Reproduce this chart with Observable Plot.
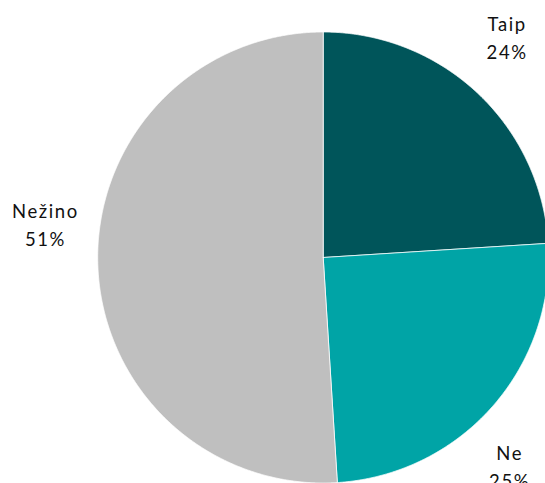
<!DOCTYPE html>
<html>
<head>
<meta charset="utf-8">
<script src="https://cdn.jsdelivr.net/npm/d3@7"></script>
<script src="https://cdn.jsdelivr.net/npm/@observablehq/plot@0.6"></script>
<style>
  html, body { margin: 0; padding: 0; background: #fff; }
  #chart svg { display: block; }
</style>
</head>
<body>
<div id="chart"></div>
<script>
// Data
const categories = ["Taip", "Ne", "Nežino"];
const values = [24, 25, 51];
const colors = ["#00555a", "#00a4a6", "#bfbfbf"];

// Layout (pixels)
const W = 545, H = 483;
const CX = 322.7, CY = 257, R = 225.5;

const total = d3.sum(values);
const slices = [];
let acc = 0;
categories.forEach((c, i) => {
  const a0 = acc / total * 2 * Math.PI;
  acc += values[i];
  const a1 = acc / total * 2 * Math.PI;
  slices.push({label: c, value: values[i], a0, a1, mid: (a0 + a1) / 2, color: colors[i]});
});

// polygon points in unit coordinates (angle clockwise from top)
const pts = [];
for (const s of slices) {
  pts.push({label: s.label, x: 0, y: 0});
  const n = Math.max(2, Math.ceil((s.a1 - s.a0) / (Math.PI / 720)));
  for (let k = 0; k <= n; k++) {
    const a = s.a0 + (s.a1 - s.a0) * k / n;
    pts.push({label: s.label, x: Math.sin(a), y: Math.cos(a)});
  }
  pts.push({label: s.label, x: 0, y: 0});
}

const LR = 1.25;
const labelOffsets = {Taip: [-9, -16], Ne: [-25, 21], "Nežino": [4, -43]};

const textMarks = slices.map(s => Plot.text([s], {
  x: d => LR * Math.sin(d.mid),
  y: d => LR * Math.cos(d.mid),
  text: d => `${d.label}\n${d.value}%`,
  dx: labelOffsets[s.label][0],
  dy: labelOffsets[s.label][1],
  fontSize: 18.5,
  lineHeight: 1.5,
  fill: "#111",
  textAnchor: "middle"
}));

const chart = Plot.plot({
  width: W,
  height: H,
  margin: 0,
  x: {domain: [-CX / R, (W - CX) / R], range: [0, W], axis: null},
  y: {domain: [-(H - CY) / R, CY / R], range: [H, 0], axis: null},
  color: {domain: categories, range: colors},
  style: {fontFamily: "Lato, 'Open Sans', sans-serif", background: "#fff", letterSpacing: "1.6px"},
  marks: [
    Plot.line(pts, {x: "x", y: "y", z: "label", fill: "label", stroke: "#fff", strokeWidth: 0.75, curve: "linear"}),
    ...textMarks
  ]
});
document.getElementById("chart").appendChild(chart);
</script>
</body>
</html>
